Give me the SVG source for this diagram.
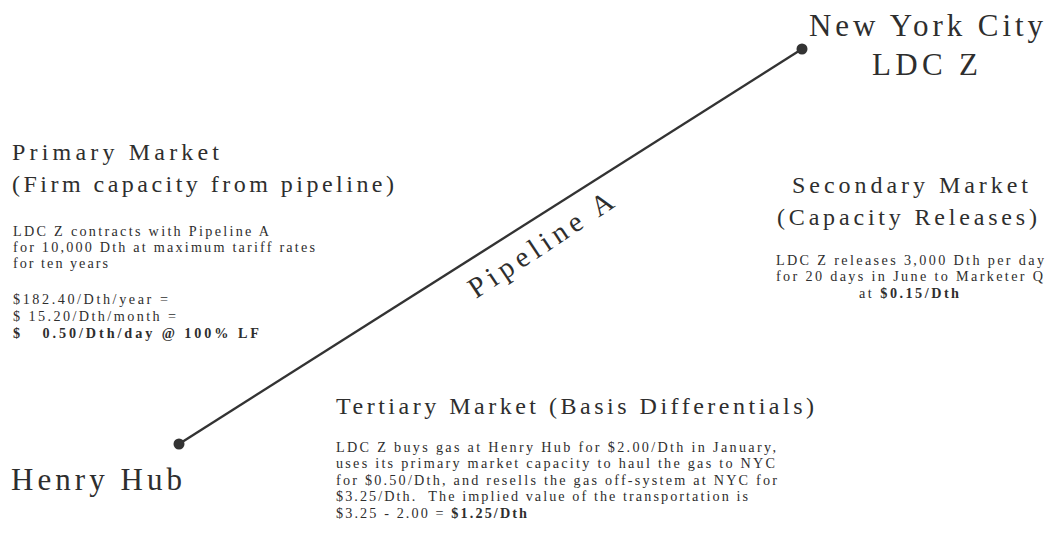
<svg xmlns="http://www.w3.org/2000/svg" width="1048" height="548" viewBox="0 0 1048 548">
<style>
text{font-family:"Liberation Serif","Times New Roman",serif;fill:#2e2e2e}
.h1{font-size:31px}
.h2{font-size:24px}
.p{font-size:29px}
.b{font-size:14.2px}
.bold{font-weight:bold}
</style>
<rect width="1048" height="548" fill="#fff"/>
<g id="connectors">
<line x1="179" y1="444" x2="802" y2="49" stroke="#333" stroke-width="2.4"/>
<text class="p" transform="translate(476,299) rotate(-33.5)" textLength="168">Pipeline A</text>
</g>
<g id="nyc">
<circle cx="802" cy="49" r="5.5" fill="#333"/>
<text class="h1" x="809" y="36" textLength="234">New York City</text>
<text class="h1" x="872" y="75" textLength="106">LDC Z</text>
</g>
<g id="henryhub">
<circle cx="179" cy="444" r="5.5" fill="#333"/>
<text class="h1" x="11" y="490" textLength="171">Henry Hub</text>
</g>
<g id="primary">
<text class="h2" x="12" y="160" textLength="207">Primary Market</text>
<text class="h2" x="12" y="192" textLength="382">(Firm capacity from pipeline)</text>
<text class="b" x="13" y="236" textLength="256">LDC Z contracts with Pipeline A</text>
<text class="b" x="13" y="252" textLength="302">for 10,000 Dth at maximum tariff rates</text>
<text class="b" x="13" y="268" textLength="95">for ten years</text>
<text class="b" x="13" y="304" textLength="155">$182.40/Dth/year =</text>
<text class="b" x="13" y="321" textLength="163">$ 15.20/Dth/month =</text>
<text class="b bold" x="13" y="338" textLength="246" xml:space="preserve">$   0.50/Dth/day @ 100% LF</text>
</g>
<g id="secondary">
<text class="h2" x="792" y="193" textLength="236">Secondary Market</text>
<text class="h2" x="777" y="225" textLength="260">(Capacity Releases)</text>
<text class="b" x="776" y="265" textLength="268">LDC Z releases 3,000 Dth per day</text>
<text class="b" x="776" y="281" textLength="267">for 20 days in June to Marketer Q</text>
<text class="b" x="859" y="298" textLength="100">at <tspan class="bold">$0.15/Dth</tspan></text>
</g>
<g id="tertiary">
<text class="h2" x="336" y="414" textLength="478">Tertiary Market (Basis Differentials)</text>
<text class="b" x="336" y="452" textLength="440">LDC Z buys gas at Henry Hub for $2.00/Dth in January,</text>
<text class="b" x="336" y="468" textLength="439">uses its primary market capacity to haul the gas to NYC</text>
<text class="b" x="336" y="485" textLength="441">for $0.50/Dth, and resells the gas off-system at NYC for</text>
<text class="b" x="336" y="501" textLength="412" xml:space="preserve">$3.25/Dth.  The implied value of the transportation is</text>
<text class="b" x="336" y="518" textLength="191">$3.25 - 2.00 = <tspan class="bold">$1.25/Dth</tspan></text>
</g>
</svg>
